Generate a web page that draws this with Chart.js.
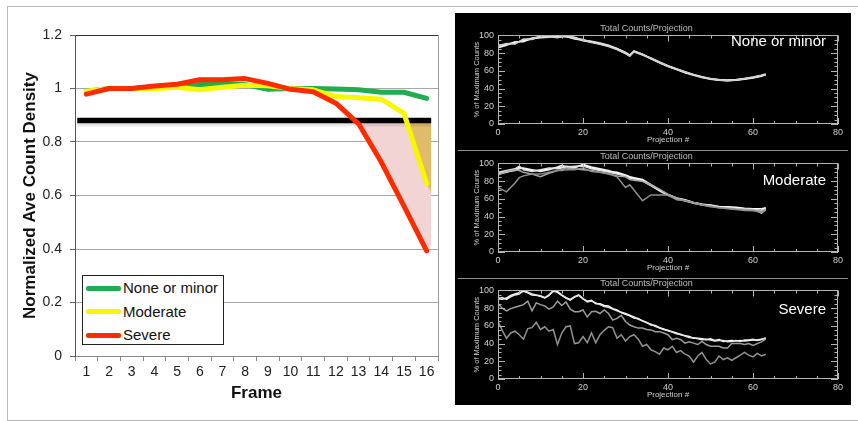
<!DOCTYPE html>
<html>
<head>
<meta charset="utf-8">
<script src="https://cdn.jsdelivr.net/npm/chart.js@4.4.1/dist/chart.umd.min.js"></script>
<style>
  body { margin: 0; width: 858px; height: 421px; position: relative; background: #fff; overflow: hidden; font-family: "Liberation Sans", Arial, sans-serif; }
  .abs { position: absolute; }
  #outer { left: 7px; top: 6px; width: 851px; height: 415px; border: 1px solid #b8b8b8; border-right: none; box-sizing: border-box; }
  #legend { left: 82px; top: 275px; width: 142px; height: 70px; border: 1.5px solid #222; box-sizing: border-box; background: #fff; }
  .row { position: absolute; left: 0; height: 20px; width: 138px; }
  .swatch { position: absolute; left: 3px; top: 7.5px; width: 35px; height: 5px; border-radius: 2px; }
  .lbl { position: absolute; left: 40px; top: 0; font-size: 15px; color: #111; line-height: 20px; white-space: nowrap; }
  #dark { left: 455px; top: 13px; width: 396px; height: 392px; background: #000; }
  .sep { left: 458px; width: 390px; height: 1px; background: #8f8f8f; }
  .tag { color: #fff; font-size: 15px; text-align: right; width: 200px; left: 626px; line-height: 18px; white-space: nowrap; }
</style>
</head>
<body>
<div id="outer" class="abs"></div>
<canvas id="mainChart" class="abs" style="left:8px;top:8px" width="442" height="411"></canvas>
<div id="legend" class="abs"></div>

<div id="dark" class="abs"></div>
<div class="abs sep" style="top:150px"></div>
<div class="abs sep" style="top:278px"></div>
<canvas id="panel1" class="abs" style="left:455px;top:23px" width="396" height="127"></canvas>
<canvas id="panel2" class="abs" style="left:455px;top:151px" width="396" height="127"></canvas>
<canvas id="panel3" class="abs" style="left:455px;top:278px" width="396" height="127"></canvas>
<div id="tags"></div>

<script>
Chart.defaults.font.family = '"Liberation Sans", Arial, sans-serif';

// ---- left chart: normalized average count density per frame
const frames = [1, 2, 3, 4, 5, 6, 7, 8, 9, 10, 11, 12, 13, 14, 15, 16];
const noneOrMinor = [0.99, 1.0, 1.0, 1.005, 1.01, 1.015, 1.018, 1.015, 0.997, 1.0, 1.0, 0.998, 0.995, 0.986, 0.986, 0.963];
const moderate = [0.99, 1.0, 1.0, 1.0, 1.005, 0.995, 1.005, 1.012, 1.01, 1.0, 0.995, 0.97, 0.965, 0.96, 0.907, 0.645];
const severe = [0.979, 1.0, 1.0, 1.009, 1.016, 1.033, 1.033, 1.037, 1.019, 0.997, 0.988, 0.945, 0.868, 0.725, 0.56, 0.393];
const threshold = 0.88;
const thresholdX = [0.6, 16.2];
const fillEdgeX = 16.2;
const goldEdgeY = 0.61;
const pinkEdgeY = 0.41;
const yTicks = [0, 0.2, 0.4, 0.6, 0.8, 1, 1.2];

const seriesNames = ['None or minor', 'Moderate', 'Severe'];
const seriesColors = ['#1fae4f', '#f7f700', '#fe2b00'];

function pts(xs, ys) {
  return xs.map((x, i) => ({ x: x, y: ys[i] }));
}

// tail of a series (from frame index `from`) plus the right edge point, for the shaded areas
function tail(ys, from, edgeY) {
  const d = pts(frames.slice(from), ys.slice(from));
  d.push({ x: fillEdgeX, y: edgeY });
  return d;
}

const plotFrame = {
  id: 'plotFrame',
  afterDraw(chart) {
    const a = chart.chartArea;
    const ctx = chart.ctx;
    ctx.save();
    ctx.strokeStyle = '#9a9a9a';
    ctx.lineWidth = 1;
    ctx.beginPath();
    ctx.moveTo(Math.round(a.right) + 0.5, a.top);
    ctx.lineTo(Math.round(a.right) + 0.5, a.bottom);
    ctx.stroke();
    ctx.restore();
  }
};

const lineStyle = { pointRadius: 0, tension: 0, fill: false, borderJoinStyle: 'round', borderCapStyle: 'round' };

new Chart(document.getElementById('mainChart'), {
  type: 'line',
  data: {
    datasets: [
      { ...lineStyle, label: seriesNames[2], data: pts(frames, severe), borderColor: seriesColors[2], borderWidth: 5, order: 0 },
      { ...lineStyle, label: seriesNames[1], data: pts(frames, moderate), borderColor: seriesColors[1], borderWidth: 5, order: 1 },
      { ...lineStyle, label: seriesNames[0], data: pts(frames, noneOrMinor), borderColor: seriesColors[0], borderWidth: 5, order: 2 },
      { ...lineStyle, data: pts(thresholdX, [threshold, threshold]), borderColor: '#000', borderWidth: 5.5, borderCapStyle: 'butt', order: 3 },
      { ...lineStyle, data: pts(thresholdX, [threshold - 0.015, threshold - 0.015]), borderColor: 'rgba(0,0,0,0.09)', borderWidth: 4, borderCapStyle: 'butt', order: 4 },
      { ...lineStyle, data: tail(moderate, 13, goldEdgeY), borderColor: 'transparent', borderWidth: 0,
        fill: { target: { value: threshold }, above: 'rgba(0,0,0,0)', below: '#e0bb6a' }, order: 5 },
      { ...lineStyle, data: tail(severe, 11, pinkEdgeY), borderColor: 'transparent', borderWidth: 0,
        fill: { target: { value: threshold }, above: 'rgba(0,0,0,0)', below: '#f3d4d4' }, order: 6 }
    ]
  },
  options: {
    responsive: false,
    animation: false,
    layout: { padding: { top: 27, right: 12, left: 0, bottom: 0 } },
    plugins: { legend: { display: false }, tooltip: { enabled: false } },
    scales: {
      x: {
        type: 'linear', min: 0.5, max: 16.5,
        afterBuildTicks: s => { s.ticks = frames.map(v => ({ value: v })); },
        afterFit: s => { s.height = 63; },
        grid: { offset: true, drawOnChartArea: false, tickLength: 5, color: '#8a8a8a' },
        border: { color: '#8a8a8a' },
        ticks: { font: { size: 14 }, color: '#222', padding: 3, maxRotation: 0, autoSkip: false },
        title: { display: true, text: 'Frame', color: '#111', font: { size: 17, weight: 'bold' }, padding: { top: 0, bottom: 15 } }
      },
      y: {
        min: 0, max: 1.2,
        afterBuildTicks: s => { s.ticks = yTicks.map(v => ({ value: v })); },
        afterFit: s => { s.width = 67; },
        grid: { color: c => (c.tick && c.tick.value === 1.2 ? '#333' : '#a8a8a8'), tickLength: 5, tickColor: '#666' },
        border: { color: '#555' },
        ticks: { font: { size: 14 }, color: '#222', padding: 8, callback: v => String(v) },
        title: { display: true, text: 'Normalized Ave Count Density', color: '#111', font: { size: 17, weight: 'bold' }, padding: { top: 12, bottom: 0 } }
      }
    }
  },
  plugins: [plotFrame]
});

const legendBox = document.getElementById('legend');
seriesNames.forEach((name, i) => {
  const row = document.createElement('div');
  row.className = 'row';
  row.style.top = (2 + i * 23.5) + 'px';
  row.innerHTML = '<span class="swatch" style="background:' + seriesColors[i] + '"></span><span class="lbl">' + name + '</span>';
  legendBox.appendChild(row);
});

// ---- right panels: total counts per projection
const projTicks = [0, 20, 40, 60, 80];
const pctTicks = [0, 20, 40, 60, 80, 100];
const projMinor = [0, 5, 10, 15, 20, 25, 30, 35, 40, 45, 50, 55, 60, 65, 70, 75, 80];
const pctMinor = [0, 5, 10, 15, 20, 25, 30, 35, 40, 45, 50, 55, 60, 65, 70, 75, 80, 85, 90, 95, 100];

const noneX = [0, 2, 4, 6, 8, 10, 12, 14, 16, 18, 20, 22, 24, 26, 28, 30, 31, 32, 34, 36, 38, 40, 42, 44, 46, 48, 50, 52, 54, 56, 58, 60, 62, 63];
const noneA = [88, 90, 92, 94, 96, 98, 99, 99, 98.5, 97, 95, 93, 91, 88.5, 85, 80.5, 77.5, 82, 78.5, 74, 69.5, 65.5, 62, 58.5, 55.5, 53, 51, 49.8, 49.3, 49.8, 51, 52.5, 54.5, 55.5];
const noneB = [86, 89, 93, 93, 97, 99, 100, 98, 99.5, 98, 94, 92.5, 90.5, 88, 84.5, 80, 77, 82.5, 79, 73.5, 69, 65, 61.5, 58, 55, 52.5, 50.5, 49.5, 49, 49.5, 50.5, 52, 54, 56];
const noneC = [89, 90.5, 91, 95, 97, 97.5, 98, 100, 99, 96, 94.5, 93.5, 91.5, 89, 85.5, 81, 78, 81.5, 78, 74.5, 70, 66, 62.5, 59, 56, 53.5, 51.5, 50.2, 49.6, 50.2, 51.5, 53, 55, 56.5];
const noneD = [87.5, 91, 90.5, 96, 95.5, 99.5, 98.5, 97.5, 100, 97.5, 95.5, 92, 90, 87.5, 84, 79.5, 76.5, 82, 78.8, 73.8, 69.8, 65.2, 61.8, 58.8, 55.8, 52.8, 51.2, 49.6, 49, 49.6, 51.2, 52.8, 54.8, 56];

const modX = [0, 2, 4, 5, 6, 8, 10, 12, 14, 15, 16, 18, 20, 22, 24, 26, 28, 30, 31, 32, 34, 36, 38, 40, 42, 44, 46, 48, 50, 52, 54, 56, 58, 60, 62, 63];
const modA = [88, 90, 93, 96, 94, 92, 92, 94, 95, 96, 97, 96, 98, 95, 93, 91, 90, 87, 85, 84, 82, 76, 70, 65, 61, 59, 56, 54, 53, 51.5, 51, 50.5, 49.5, 49, 49, 50];
const modB = [89, 91, 92, 94, 95, 93, 91, 93, 96, 98, 96, 95, 99, 96, 94, 92, 89, 86, 84.5, 83, 81, 75, 69, 64, 60, 58, 55, 53, 52, 51, 50, 49.5, 48.5, 48, 47, 49.5];
const modC = [90, 92, 94, 97, 93, 91, 93, 95, 94, 95, 96, 97, 97, 94, 92, 90, 88, 86, 83, 82.5, 80, 75, 70, 64.5, 60.5, 58.5, 56, 54, 52.5, 50.5, 50.5, 49, 49, 48.5, 44, 48];
const modD = [87, 91, 93, 92, 90, 88, 85, 89, 92, 93, 95, 94, 93, 92, 90, 88, 86, 85, 82, 81, 80, 76, 71, 65, 61, 58, 55.5, 53.5, 52, 50, 49.5, 48.5, 48, 47.5, 46, 48];
const modE = [73, 68, 78, 84, 86, 88, 88, 90, 92, 92, 93, 93, 95, 91, 90, 89, 85, 73, 76, 70, 58, 64.5, 64.5, 64.5, 59, 58, 56, 53, 51, 50, 49, 48, 47, 46.5, 45, 47];

const sevX = [0, 1, 2, 3, 4, 5, 6, 7, 8, 9, 10, 11, 12, 13, 14, 15, 16, 17, 18, 19, 20, 21, 22, 23, 24, 25, 26, 27, 28, 29, 30, 31,
  32, 33, 34, 35, 36, 37, 38, 39, 40, 41, 42, 43, 44, 45, 46, 47, 48, 49, 50, 51, 52, 53, 54, 55, 56, 57, 58, 59, 60, 61, 62, 63];
const sevA = [90, 90, 91.5, 94.5, 96, 97.5, 99, 97.5, 95, 94.5, 93.5, 91.5, 94.5, 100, 98, 94.5, 91.5, 89, 92.5, 94.5, 90.5, 88, 89, 85, 85, 83, 82.5, 79.5, 78, 75, 73, 71.5,
  69, 68.5, 65.5, 64, 61, 60.5, 58, 56.5, 54.5, 53.5, 52, 50, 49, 48, 46, 46, 45.5, 44.5, 45.5, 43.5, 44.5, 42.5, 43, 43.5, 43, 43.5, 43, 43.5, 44, 44, 45, 46];
const sevB = [91, 92, 90, 93, 95, 96, 100, 98, 96, 95, 94, 92, 95, 99, 99, 95, 92, 90, 93, 95, 91, 87, 88, 86, 84, 82, 81, 79, 77, 75.5, 74, 72,
  70, 67.5, 66, 63.5, 62, 59.5, 57.5, 56, 55, 53, 51, 50.5, 48.5, 47, 46.5, 45.5, 44.5, 45, 44, 43, 43.5, 43.5, 42, 42.5, 43.5, 42.5, 44, 44, 45, 43.5, 44.5, 46.5];
const sevC = [85, 80, 77, 79.5, 81, 82.5, 84, 88, 77, 86, 84, 82.5, 79, 81.5, 88, 83, 87, 79, 76, 76, 78, 70, 76, 76.5, 74, 78, 74, 66.5, 68.5, 72, 65, 61,
  59, 57.5, 57.5, 56, 55.5, 53.5, 53.5, 52, 50, 44.5, 46, 44.5, 40.5, 42, 40.5, 39, 42.5, 39, 37, 37, 37, 35, 35, 40, 40, 40, 39, 40, 38, 40, 42, 45];
const sevD = [65, 55, 46, 52, 54, 50, 45, 57, 58, 64, 56, 59, 54, 56, 39, 52, 59, 60, 40, 41, 48, 41, 52, 41, 50, 55, 59, 58, 46, 50, 43, 48,
  50, 45, 37, 39, 33, 31, 28, 35, 33, 37, 30, 32, 28, 26, 19, 26, 30, 22, 17, 19, 26, 22, 24, 21, 24, 27, 30, 27, 25, 29, 26, 28];

const panelTags = ['None or minor', 'Moderate', 'Severe'];
const tagTops = [32, 171, 300];

const idlBox = {
  id: 'idlBox',
  afterDraw(chart) {
    const { ctx, chartArea: a, scales: { x, y } } = chart;
    ctx.save();
    ctx.strokeStyle = '#b4b4b4';
    ctx.lineWidth = 1;
    ctx.strokeRect(Math.round(a.left) + 0.5, Math.round(a.top) + 0.5, Math.round(a.width) - 1, Math.round(a.height) - 1);
    ctx.beginPath();
    projMinor.forEach(v => {
      const px = Math.round(x.getPixelForValue(v)) + 0.5;
      const len = v % 20 === 0 ? 6 : 3;
      ctx.moveTo(px, a.bottom); ctx.lineTo(px, a.bottom - len);
      ctx.moveTo(px, a.top); ctx.lineTo(px, a.top + len);
    });
    pctMinor.forEach(v => {
      const py = Math.round(y.getPixelForValue(v)) + 0.5;
      const len = v % 20 === 0 ? 7 : 3.5;
      ctx.moveTo(a.left, py); ctx.lineTo(a.left + len, py);
      ctx.moveTo(a.right, py); ctx.lineTo(a.right - len, py);
    });
    ctx.stroke();
    ctx.restore();
  }
};

function makePanel(id, xs, lines, colors) {
  new Chart(document.getElementById(id), {
    type: 'line',
    data: {
      datasets: lines.map((ys, i) => ({
        data: pts(xs, ys), borderColor: colors[i], borderWidth: 1.5, pointRadius: 0, tension: 0, fill: false
      }))
    },
    options: {
      responsive: false,
      animation: false,
      layout: { padding: { right: 13, left: 0, top: 0, bottom: 0 } },
      plugins: {
        legend: { display: false },
        tooltip: { enabled: false },
        title: { display: true, text: 'Total Counts/Projection', color: '#bdbdbd', font: { size: 9, weight: 'normal' }, padding: { top: 0.5, bottom: 1.2 } }
      },
      scales: {
        x: {
          type: 'linear', min: 0, max: 80,
          afterBuildTicks: s => { s.ticks = projTicks.map(v => ({ value: v })); },
          afterFit: s => { s.height = 26; },
          grid: { display: false, drawTicks: false },
          border: { display: false },
          ticks: { color: '#cfcfcf', font: { size: 9 }, padding: 3, maxRotation: 0 },
          title: { display: true, text: 'Projection #', color: '#cfcfcf', font: { size: 8 }, padding: { top: 0, bottom: 5 } }
        },
        y: {
          min: 0, max: 100,
          afterBuildTicks: s => { s.ticks = pctTicks.map(v => ({ value: v })); },
          afterFit: s => { s.width = 43; },
          grid: { display: false, drawTicks: false },
          border: { display: false },
          ticks: { color: '#cfcfcf', font: { size: 9 }, padding: 4 },
          title: { display: true, text: '% of Maximum Counts', color: '#cfcfcf', font: { size: 7.5 }, padding: { top: 17, bottom: 0 } }
        }
      }
    },
    plugins: [idlBox]
  });
}

makePanel('panel1', noneX, [noneD, noneC, noneB, noneA], ['#cfcfcf', '#e6e6e6', '#f2f2f2', '#ffffff']);
makePanel('panel2', modX, [modE, modD, modC, modB, modA], ['#8e8e8e', '#a8a8a8', '#e0e0e0', '#f2f2f2', '#ffffff']);
makePanel('panel3', sevX, [sevD, sevC, sevB, sevA], ['#929292', '#9c9c9c', '#e6e6e6', '#ffffff']);

const tagBox = document.getElementById('tags');
panelTags.forEach((t, i) => {
  const d = document.createElement('div');
  d.className = 'abs tag';
  d.style.top = tagTops[i] + 'px';
  d.textContent = t;
  tagBox.appendChild(d);
});
</script>
</body>
</html>
